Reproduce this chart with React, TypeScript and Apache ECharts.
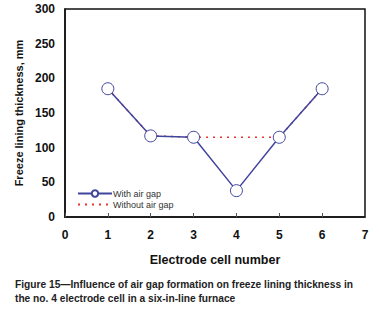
import React, { useEffect, useRef } from "react";
import * as echarts from "echarts";

const cells = [1, 2, 3, 4, 5, 6];
const withAirGap = [185, 117, 115, 38, 115, 185];
const withoutAirGap = [185, 117, 115, 115, 115, 185];
const xTicks = [0, 1, 2, 3, 4, 5, 6, 7];
const yTicks = [0, 50, 100, 150, 200, 250, 300];

export default function App() {
  const ref = useRef<HTMLDivElement>(null);
  useEffect(() => {
    const chart = echarts.init(ref.current!, null, { renderer: "svg" });
    const font = "'Liberation Sans', Arial, sans-serif";
    chart.setOption({
      animation: false,
      backgroundColor: "#ffffff",
      textStyle: { fontFamily: font },
      grid: { left: 65, right: 14, top: 9, bottom: 93, show: false },
      legend: {
        left: 72,
        top: 184,
        orient: "vertical",
        itemWidth: 34,
        itemHeight: 8,
        itemGap: 2,
        textStyle: { fontSize: 9, color: "#333", fontFamily: font, padding: [0, 0, 0, -4] },
        data: [
          { name: "With air gap" },
          { name: "Without air gap", itemStyle: { opacity: 0 } },
        ],
      },
      xAxis: {
        type: "value",
        min: xTicks[0],
        max: xTicks[xTicks.length - 1],
        interval: 1,
        name: "Electrode cell number",
        nameLocation: "middle",
        nameGap: 36,
        nameTextStyle: { fontSize: 12.5, fontWeight: "bold", color: "#111", fontFamily: font },
        axisLine: { show: true, lineStyle: { color: "#111", width: 1.5 } },
        axisTick: { show: true, inside: true, length: 4, lineStyle: { color: "#555" } },
        axisLabel: { fontSize: 12, fontWeight: "bold", color: "#111", margin: 12, fontFamily: font },
        splitLine: { show: false },
      },
      yAxis: {
        type: "value",
        min: yTicks[0],
        max: yTicks[yTicks.length - 1],
        interval: 50,
        name: "Freeze lining thickness, mm",
        nameLocation: "middle",
        nameGap: 40,
        nameTextStyle: { fontSize: 11, fontWeight: "bold", color: "#111", fontFamily: font },
        axisLine: { show: true, lineStyle: { color: "#111", width: 1.5 } },
        axisTick: { show: false },
        axisLabel: { fontSize: 12, fontWeight: "bold", color: "#111", margin: 10, fontFamily: font },
        splitLine: { show: false },
      },
      graphic: [
        {
          type: "rect",
          shape: { x: 65, y: 9, width: 300, height: 208 },
          style: { fill: "none", stroke: "#111", lineWidth: 1.5 },
          silent: true,
          z: 0,
        },
        {
          type: "text",
          left: 15,
          top: 277,
          style: {
            text: "Figure 15\u2014Influence of air gap formation on freeze lining thickness in\nthe no. 4 electrode cell in a six-in-line furnace",
            font: "bold 10.2px 'Liberation Sans', Arial, sans-serif",
            fill: "#222",
            lineHeight: 14,
          },
        },
      ],
      series: [
        {
          name: "Without air gap",
          type: "line",
          data: cells.map((c, i) => [c, withoutAirGap[i]]),
          showSymbol: false,
          symbol: "none",
          lineStyle: { color: "#e8322e", width: 1.5, type: [2, 5] },
          itemStyle: { color: "#e8322e" },
          z: 2,
        },
        {
          name: "With air gap",
          type: "line",
          data: cells.map((c, i) => [c, withAirGap[i]]),
          symbol: "circle",
          symbolSize: 12,
          lineStyle: { color: "#40449c", width: 1.5 },
          itemStyle: { color: "#ffffff", borderColor: "#40449c", borderWidth: 1 },
          z: 3,
        },
      ],
    });
    return () => chart.dispose();
  }, []);
  return <div ref={ref} style={{ width: 379, height: 310, position: "absolute", left: 0, top: 0 }} />;
}
